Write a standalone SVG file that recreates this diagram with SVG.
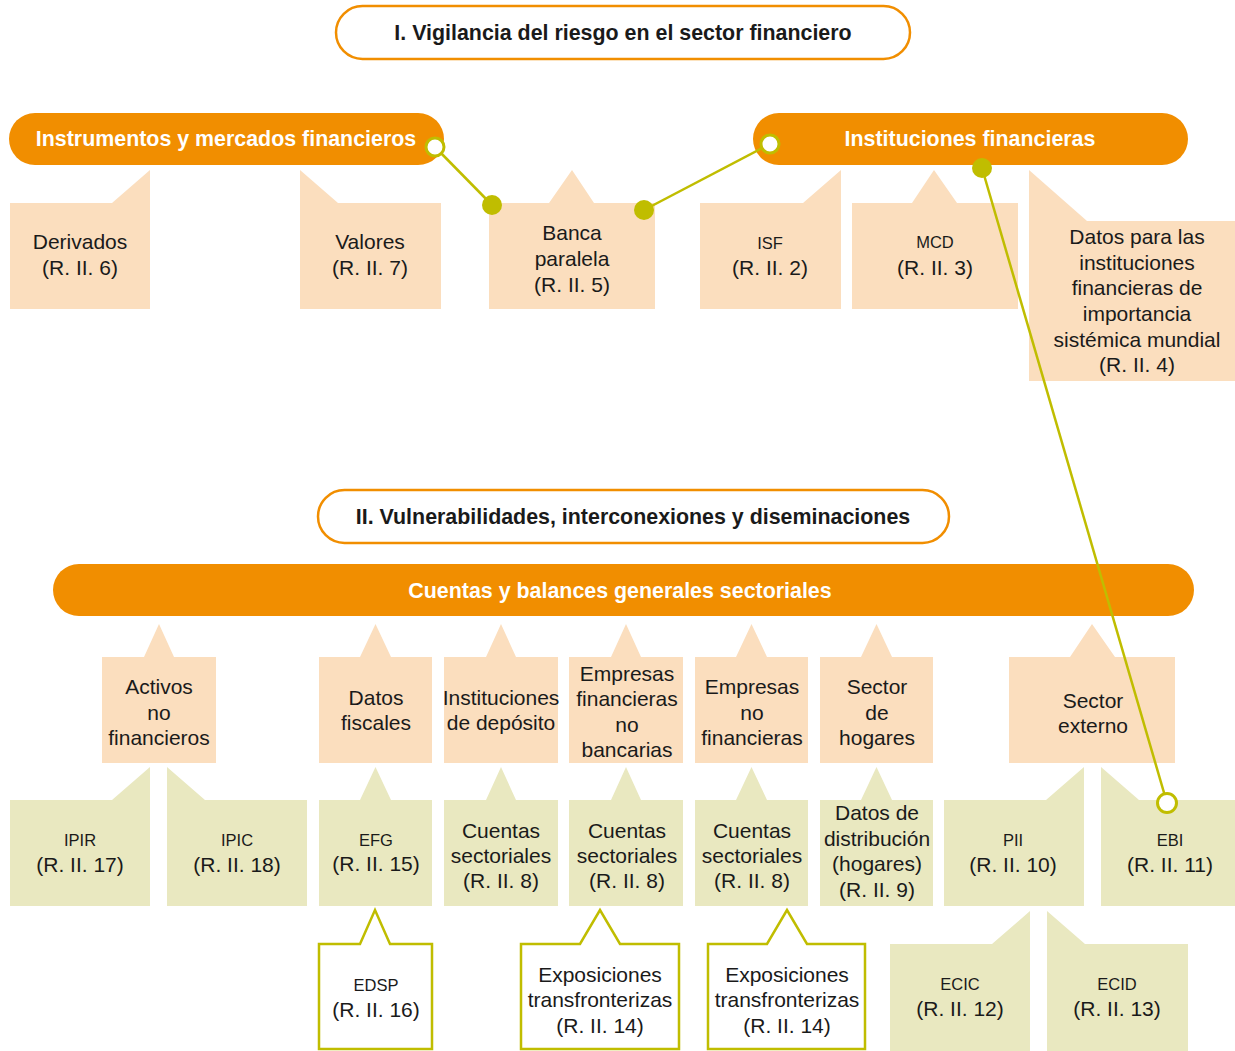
<svg xmlns="http://www.w3.org/2000/svg" width="1235" height="1051" viewBox="0 0 1235 1051">
<style>
.t{font-family:"Liberation Sans",Arial,sans-serif;font-size:21px;fill:#1a1a1a;text-anchor:middle}
.s{font-size:16.5px}
.h{font-family:"Liberation Sans",Arial,sans-serif;font-size:21.4px;font-weight:bold;text-anchor:middle}
.ttl{fill:#1a1a1a}
.wt{fill:#ffffff}
.tbox{fill:#ffffff;stroke:#F18E00;stroke-width:2.5}
.bar{fill:#F18E00}
.pe{fill:#FBDEBE}
.gr{fill:#E9E8C0}
.ol{fill:#ffffff;stroke:#C0BD00;stroke-width:2.5}
.ln{stroke:#C0BD00;stroke-width:2.5;fill:none}
.dot{fill:#C0BD00}
.ring{fill:#ffffff;stroke:#C0BD00;stroke-width:3}
</style>

<g id="title1"><rect class="tbox" x="336" y="6" width="574" height="53" rx="26.5"/><text class="h ttl" x="623" y="39.5">I. Vigilancia del riesgo en el sector financiero</text></g>
<g id="bar-instrumentos"><rect class="bar" x="9" y="113" width="435" height="52" rx="26"/><text class="h wt" x="226" y="145.5">Instrumentos y mercados financieros</text></g>
<g id="bar-instituciones"><rect class="bar" x="753" y="113" width="435" height="52" rx="26"/><text class="h wt" x="970" y="145.5">Instituciones financieras</text></g>

<g id="derivados"><path class="pe" d="M10,203 H112 L150,170 V309 H10 Z"/><text class="t" x="80" y="249">Derivados</text><text class="t" x="80" y="275">(R. II. 6)</text></g>
<g id="valores"><path class="pe" d="M300,170 L338,203 H441 V309 H300 Z"/><text class="t" x="370" y="249">Valores</text><text class="t" x="370" y="275">(R. II. 7)</text></g>
<g id="banca"><path class="pe" d="M489,203 H549 L572,170 L594,203 H655 V309 H489 Z"/><text class="t" x="572" y="240">Banca</text><text class="t" x="572" y="266">paralela</text><text class="t" x="572" y="292">(R. II. 5)</text></g>
<g id="isf"><path class="pe" d="M700,203 H803 L841,170 V309 H700 Z"/><text class="t s" x="770" y="249">ISF</text><text class="t" x="770" y="275">(R. II. 2)</text></g>
<g id="mcd"><path class="pe" d="M852,203 H912 L934,170 L957,203 H1018 V309 H852 Z"/><text class="t s" x="935" y="248">MCD</text><text class="t" x="935" y="275">(R. II. 3)</text></g>
<g id="datos-ifism"><path class="pe" d="M1029,170 L1087,221 H1235 V381 H1029 Z"/>
<text class="t" x="1137" y="244">Datos para las</text><text class="t" x="1137" y="270">instituciones</text><text class="t" x="1137" y="295">financieras de</text><text class="t" x="1137" y="321">importancia</text><text class="t" x="1137" y="347">sistémica mundial</text><text class="t" x="1137" y="372">(R. II. 4)</text></g>

<g id="title2"><rect class="tbox" x="318" y="490" width="631" height="53" rx="26.5"/><text class="h ttl" x="633" y="523.5">II. Vulnerabilidades, interconexiones y diseminaciones</text></g>
<g id="bar-cuentas"><rect class="bar" x="53" y="564" width="1141" height="52" rx="26"/><text class="h wt" x="620" y="597.5">Cuentas y balances generales sectoriales</text></g>

<g id="activos"><path class="pe" d="M102,657 H144 L159,624 L174,657 H216 V763 H102 Z"/><text class="t" x="159" y="694">Activos</text><text class="t" x="159" y="720">no</text><text class="t" x="159" y="745">financieros</text></g>
<g id="fiscales"><path class="pe" d="M319,657 H360 L375.5,624 L391,657 H432 V763 H319 Z"/><text class="t" x="376" y="705">Datos</text><text class="t" x="376" y="730">fiscales</text></g>
<g id="deposito"><path class="pe" d="M444,657 H486 L501,624 L516,657 H558 V763 H444 Z"/><text class="t" x="501" y="705">Instituciones</text><text class="t" x="501" y="730">de depósito</text></g>
<g id="efnb"><path class="pe" d="M569,657 H611 L626,624 L641,657 H683 V763 H569 Z"/><text class="t" x="627" y="681">Empresas</text><text class="t" x="627" y="706">financieras</text><text class="t" x="627" y="732">no</text><text class="t" x="627" y="757">bancarias</text></g>
<g id="enf"><path class="pe" d="M695,657 H736 L751.5,624 L767,657 H808 V763 H695 Z"/><text class="t" x="752" y="694">Empresas</text><text class="t" x="752" y="720">no</text><text class="t" x="752" y="745">financieras</text></g>
<g id="hogares"><path class="pe" d="M820,657 H861 L876.5,624 L892,657 H933 V763 H820 Z"/><text class="t" x="877" y="694">Sector</text><text class="t" x="877" y="720">de</text><text class="t" x="877" y="745">hogares</text></g>
<g id="externo"><path class="pe" d="M1009,657 H1070 L1092,624 L1115,657 H1175 V763 H1009 Z"/><text class="t" x="1093" y="708">Sector</text><text class="t" x="1093" y="733">externo</text></g>

<g id="ipir"><path class="gr" d="M10,800 H112 L150,767 V906 H10 Z"/><text class="t s" x="80" y="846">IPIR</text><text class="t" x="80" y="872">(R. II. 17)</text></g>
<g id="ipic"><path class="gr" d="M167,767 L205,800 H307 V906 H167 Z"/><text class="t s" x="237" y="846">IPIC</text><text class="t" x="237" y="872">(R. II. 18)</text></g>
<g id="efg"><path class="gr" d="M319,800 H360 L375.5,767 L391,800 H432 V906 H319 Z"/><text class="t s" x="376" y="846">EFG</text><text class="t" x="376" y="871">(R. II. 15)</text></g>
<g id="cs1"><path class="gr" d="M444,800 H486 L501,767 L516,800 H558 V906 H444 Z"/><text class="t" x="501" y="838">Cuentas</text><text class="t" x="501" y="863">sectoriales</text><text class="t" x="501" y="888">(R. II. 8)</text></g>
<g id="cs2"><path class="gr" d="M569,800 H611 L626,767 L641,800 H683 V906 H569 Z"/><text class="t" x="627" y="838">Cuentas</text><text class="t" x="627" y="863">sectoriales</text><text class="t" x="627" y="888">(R. II. 8)</text></g>
<g id="cs3"><path class="gr" d="M695,800 H736 L751.5,767 L767,800 H808 V906 H695 Z"/><text class="t" x="752" y="838">Cuentas</text><text class="t" x="752" y="863">sectoriales</text><text class="t" x="752" y="888">(R. II. 8)</text></g>
<g id="distribucion"><path class="gr" d="M820,800 H861 L876.5,767 L892,800 H933 V906 H820 Z"/><text class="t" x="877" y="820">Datos de</text><text class="t" x="877" y="846">distribución</text><text class="t" x="877" y="871">(hogares)</text><text class="t" x="877" y="897">(R. II. 9)</text></g>
<g id="pii"><path class="gr" d="M944,800 H1046 L1084,767 V906 H944 Z"/><text class="t s" x="1013" y="846">PII</text><text class="t" x="1013" y="872">(R. II. 10)</text></g>
<g id="ebi"><path class="gr" d="M1101,767 L1139,800 H1235 V906 H1101 Z"/><text class="t s" x="1170" y="846">EBI</text><text class="t" x="1170" y="872">(R. II. 11)</text></g>

<g id="edsp"><path class="ol" d="M319,944 H360 L375,910 L390,944 H432 V1049 H319 Z"/><text class="t s" x="376" y="991">EDSP</text><text class="t" x="376" y="1017">(R. II. 16)</text></g>
<g id="expo1"><path class="ol" d="M521,944 H580 L600,910 L620,944 H679 V1049 H521 Z"/><text class="t" x="600" y="982">Exposiciones</text><text class="t" x="600" y="1007">transfronterizas</text><text class="t" x="600" y="1033">(R. II. 14)</text></g>
<g id="expo2"><path class="ol" d="M708,944 H767 L787,910 L807,944 H865 V1049 H708 Z"/><text class="t" x="787" y="982">Exposiciones</text><text class="t" x="787" y="1007">transfronterizas</text><text class="t" x="787" y="1033">(R. II. 14)</text></g>
<g id="ecic"><path class="gr" d="M890,944 H992 L1030,911 V1051 H890 Z"/><text class="t s" x="960" y="990">ECIC</text><text class="t" x="960" y="1016">(R. II. 12)</text></g>
<g id="ecid"><path class="gr" d="M1047,911 L1085,944 H1188 V1051 H1047 Z"/><text class="t s" x="1117" y="990">ECID</text><text class="t" x="1117" y="1016">(R. II. 13)</text></g>

<g id="connectors">
<line class="ln" x1="435" y1="147" x2="492" y2="205"/>
<line class="ln" x1="644" y1="210" x2="770" y2="144"/>
<line class="ln" x1="982" y1="168" x2="1167" y2="803"/>
<circle class="dot" cx="492" cy="205" r="10"/>
<circle class="dot" cx="644" cy="210" r="10"/>
<circle class="dot" cx="982" cy="168" r="10"/>
<circle class="ring" cx="435" cy="147" r="9"/>
<circle class="ring" cx="770" cy="144" r="9"/>
<circle class="ring" cx="1167" cy="803" r="9.5"/>
</g>
</svg>
